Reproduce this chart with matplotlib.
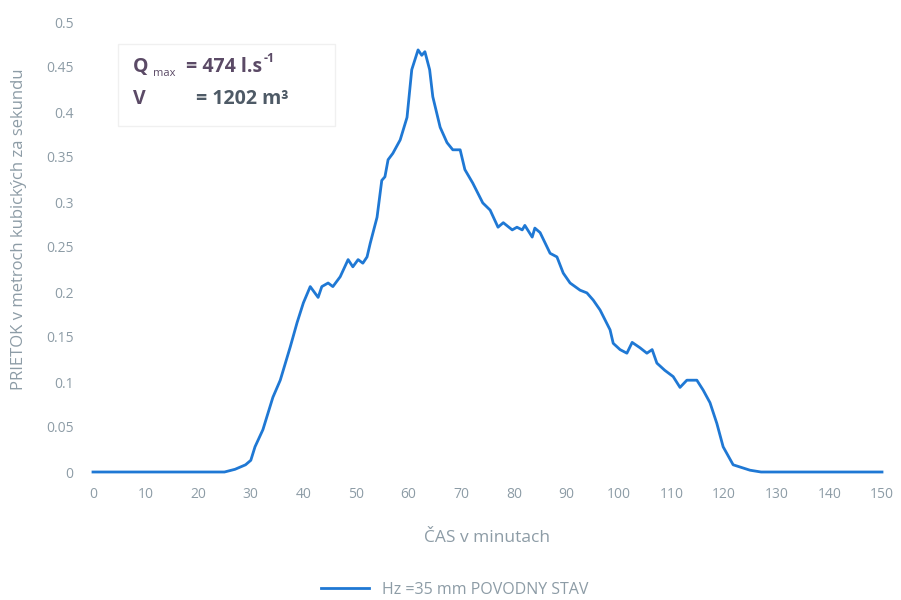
import matplotlib
matplotlib.use("Agg")
import matplotlib.pyplot as plt
import numpy as np

plt.rcParams['font.family'] = ['Open Sans', 'DejaVu Sans']

# hydrograph: time in minutes, discharge in m3/s
cas = [0, 5, 10, 15, 20, 25, 27, 29, 30, 30.8, 32.3, 34.2, 35.6, 37.5, 38.8,
       40.0, 41.3, 42.8, 43.5, 44.7, 45.6, 47.0, 48.5, 49.4, 50.4, 51.3, 52.1,
       52.7, 54.0, 54.9, 55.5, 56.1, 57.0, 58.4, 59.7, 60.6, 61.2, 61.8, 62.5,
       63.1, 64.0, 64.6, 66.0, 67.3, 68.4, 69.8, 70.7, 72.2, 74.1, 75.5, 77.0,
       78.0, 79.7, 80.6, 81.6, 82.1, 83.5, 84.0, 85.0, 86.9, 88.2, 89.4, 90.7,
       92.6, 93.9, 95.1, 96.4, 98.3, 98.9, 100.2, 101.5, 102.5, 104.0, 105.3,
       106.3, 107.2, 108.7, 110.3, 111.6, 112.9, 114.8, 116.0, 117.3, 118.6,
       119.8, 121.7, 124.9, 127, 135, 150]
prietok = [0, 0, 0, 0, 0, 0.0, 0.003, 0.008, 0.013, 0.028, 0.047, 0.083, 0.102,
           0.139, 0.166, 0.188, 0.206, 0.194, 0.206, 0.210, 0.206, 0.217, 0.236,
           0.228, 0.236, 0.232, 0.239, 0.254, 0.283, 0.324, 0.328, 0.347, 0.354,
           0.369, 0.394, 0.447, 0.458, 0.469, 0.463, 0.467, 0.447, 0.417, 0.383,
           0.366, 0.358, 0.358, 0.336, 0.321, 0.299, 0.291, 0.272, 0.277, 0.269,
           0.272, 0.269, 0.274, 0.261, 0.271, 0.266, 0.243, 0.239, 0.221, 0.210,
           0.202, 0.199, 0.191, 0.180, 0.158, 0.143, 0.136, 0.132, 0.144, 0.138,
           0.132, 0.136, 0.121, 0.113, 0.106, 0.094, 0.102, 0.102, 0.091, 0.077,
           0.054, 0.028, 0.008, 0.002, 0, 0, 0]

x_ticks = list(range(0, 151, 10))
y_ticks = [0, 0.05, 0.1, 0.15, 0.2, 0.25, 0.3, 0.35, 0.4, 0.45, 0.5]
y_tick_labels = ['0', '0.05', '0.1', '0.15', '0.2', '0.25', '0.3', '0.35', '0.4', '0.45', '0.5']

grey = '#8d9ca6'
blue = '#1f78d4'
purple = '#5b4a66'

fig = plt.figure(figsize=(9.01, 6), dpi=100)
ax = fig.add_axes([93 / 901, 1 - 472 / 600, 789 / 901, 450 / 600])

ax.plot(cas, prietok, color=blue, linewidth=2, clip_on=False,
        label='Hz =35 mm POVODNY STAV')

ax.set_xlim(0, 150)
ax.set_ylim(0, 0.5)
ax.set_xticks(x_ticks)
ax.set_yticks(y_ticks)
ax.set_yticklabels(y_tick_labels)
ax.tick_params(length=0, colors=grey, labelsize=10)
ax.tick_params(axis='x', pad=11)
ax.tick_params(axis='y', pad=14)
for s in ax.spines.values():
    s.set_visible(False)

ax.set_xlabel('ČAS v minutach', color=grey, fontsize=12.5, labelpad=20)
ax.set_ylabel('PRIETOK v metroch kubických za sekundu', color=grey, fontsize=12)
ax.yaxis.set_label_coords(-66 / 789, 0.54)

# legend under the plot
leg = fig.legend(loc='center', bbox_to_anchor=(455 / 901, 1 - 590 / 600),
                 frameon=False, fontsize=11.5, handlelength=3)
for t in leg.get_texts():
    t.set_color(grey)

# info box with peak discharge and volume
box = plt.Rectangle((118 / 901, 1 - 126 / 600), 217 / 901, 82 / 600,
                    transform=fig.transFigure, facecolor='white',
                    edgecolor='#f0f0f0', linewidth=1)
fig.patches.append(box)
fs = 14
H = 600.0
W = 901.0
fig.text(133 / W, 1 - 72 / H, 'Q', color=purple, fontsize=fs,
         fontweight='bold', va='baseline')
fig.text(153 / W, 1 - 76 / H, 'max', color=purple, fontsize=8,
         va='baseline')
t1 = fig.text(186 / W, 1 - 72 / H, '= 474 l.s', color=purple, fontsize=fs,
              fontweight='bold', va='baseline')
fig.text(133 / W, 1 - 104 / H, 'V', color=purple, fontsize=fs,
         fontweight='bold', va='baseline')
fig.text(196 / W, 1 - 104 / H, '= 1202 m³', color='#4e5a66', fontsize=fs,
         fontweight='bold', va='baseline')

# superscript placed right after "l.s"
r = fig.canvas.get_renderer()
bb = t1.get_window_extent(renderer=r)
fig.text((bb.x1 + 1) / W, 1 - 62 / H, '-1', color=purple, fontsize=9,
         fontweight='bold', va='baseline')

fig.savefig('out.png', dpi=100, facecolor='white')
